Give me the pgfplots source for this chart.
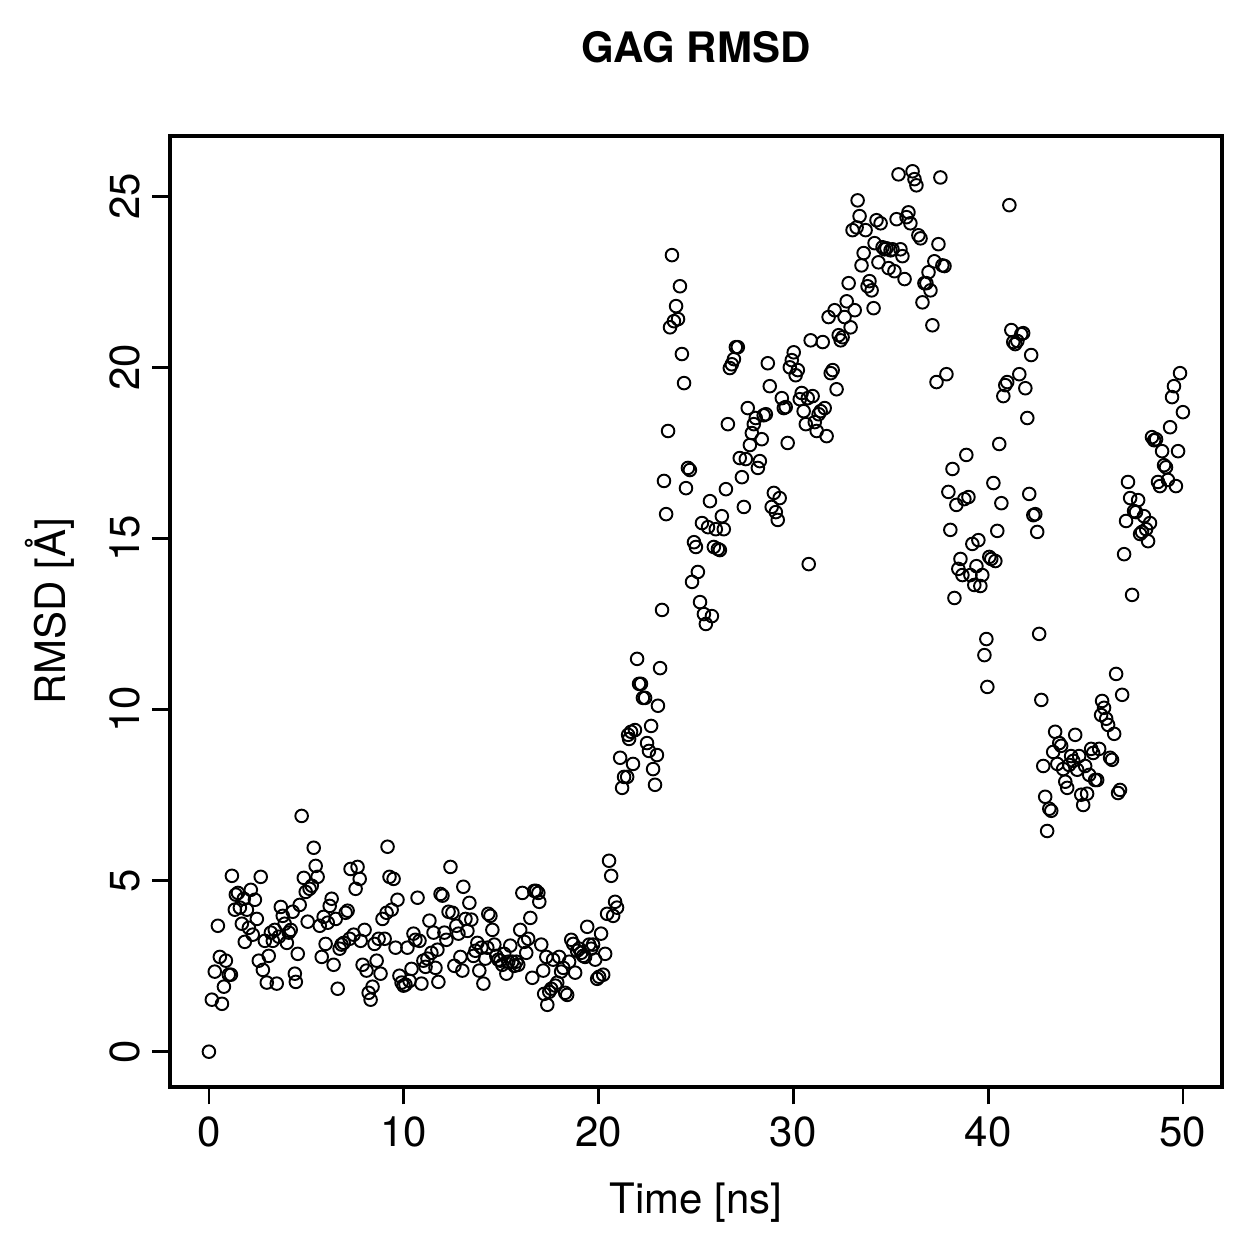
\documentclass[border=0pt]{standalone}
\usepackage{pgfplots}
\pgfplotsset{compat=1.18}
\usepackage{pgfplotstable}
\usepackage{fontspec}
\setmainfont{TeX Gyre Heros}
\pgfplotstableread{
x y
0 0
0.15 1.52
0.30 2.34
0.46 3.68
0.56 2.77
0.67 1.40
0.77 1.90
0.87 2.66
1.02 2.25
1.13 2.25
1.18 5.14
1.33 4.15
1.38 4.59
1.49 4.64
1.59 4.21
1.69 3.74
1.79 4.47
1.84 3.21
1.95 4.15
2.05 3.62
2.15 4.73
2.25 3.42
2.36 4.44
2.46 3.88
2.56 2.66
2.66 5.11
2.77 2.39
2.87 3.24
2.97 2.02
3.07 2.80
3.18 3.48
3.28 3.24
3.38 3.56
3.48 1.99
3.59 3.36
3.69 4.23
3.79 3.97
3.89 3.74
4.00 3.18
4.10 3.48
4.20 3.56
4.30 4.09
4.41 2.28
4.46 2.04
4.56 2.86
4.66 4.29
4.76 6.89
4.87 5.08
4.97 4.67
5.07 3.80
5.17 4.76
5.28 4.85
5.38 5.96
5.48 5.43
5.58 5.11
5.69 3.68
5.79 2.77
5.89 3.94
5.99 3.15
6.10 3.77
6.20 4.26
6.30 4.47
6.40 2.54
6.51 3.88
6.61 1.84
6.71 3.01
6.81 3.13
6.92 3.18
7.02 4.06
7.12 4.12
7.22 3.30
7.27 5.34
7.43 3.42
7.53 4.76
7.63 5.40
7.74 5.05
7.79 3.24
7.89 2.54
7.99 3.56
8.09 2.37
8.20 1.72
8.30 1.52
8.40 1.90
8.50 3.15
8.61 2.66
8.71 3.30
8.81 2.28
8.91 3.88
9.02 3.30
9.12 4.06
9.17 5.99
9.27 5.11
9.38 4.15
9.48 5.05
9.58 3.04
9.68 4.44
9.78 2.22
9.89 2.02
9.99 1.93
10.09 1.96
10.19 3.04
10.30 2.07
10.40 2.42
10.50 3.45
10.60 3.27
10.71 4.50
10.81 3.24
10.91 1.99
11.01 2.66
11.12 2.48
11.22 2.72
11.32 3.83
11.42 2.89
11.53 3.48
11.63 2.45
11.73 2.98
11.78 2.04
11.89 4.61
11.99 4.56
12.09 3.48
12.19 3.27
12.30 4.09
12.40 5.40
12.50 4.06
12.60 2.51
12.70 3.68
12.81 3.45
12.91 2.77
13.01 2.37
13.06 4.82
13.17 3.88
13.27 3.53
13.37 4.35
13.47 3.86
13.58 2.80
13.68 2.95
13.78 3.18
13.88 2.37
13.99 3.04
14.09 1.99
14.19 2.72
14.29 3.04
14.34 4.03
14.45 3.97
14.55 3.56
14.65 3.13
14.75 2.80
14.86 2.69
14.96 2.66
15.06 2.54
15.16 2.86
15.27 2.28
15.37 2.63
15.47 3.10
15.57 2.63
15.68 2.51
15.78 2.63
15.88 2.54
15.98 3.56
16.09 4.64
16.19 3.21
16.29 2.89
16.39 3.30
16.50 3.91
16.60 2.16
16.70 4.70
16.80 4.70
16.91 4.64
16.96 4.38
17.06 3.13
17.16 2.37
17.21 1.69
17.32 2.77
17.37 1.37
17.47 1.75
17.57 1.84
17.67 2.69
17.78 1.93
17.88 2.02
17.98 2.77
18.08 2.34
18.19 2.45
18.29 1.72
18.39 1.66
18.49 2.63
18.60 3.27
18.70 3.15
18.80 2.31
18.90 2.95
19.01 3.01
19.11 2.89
19.21 2.80
19.31 2.77
19.42 3.65
19.52 3.13
19.62 3.01
19.72 3.13
19.83 2.69
19.93 2.13
20.03 2.19
20.13 3.45
20.24 2.25
20.34 2.86
20.44 4.03
20.54 5.58
20.65 5.14
20.75 3.97
20.85 4.38
20.95 4.21
21.11 8.59
21.21 7.71
21.31 8.03
21.47 8.03
21.52 9.26
21.57 9.14
21.67 9.35
21.77 8.41
21.87 9.40
21.98 11.48
22.08 10.75
22.18 10.75
22.28 10.34
22.39 10.34
22.49 9.02
22.59 8.79
22.70 9.52
22.80 8.26
22.90 7.80
23.00 8.67
23.05 10.11
23.16 11.21
23.26 12.91
23.36 16.68
23.47 15.71
23.57 18.14
23.67 21.17
23.77 23.28
23.87 21.35
23.98 21.79
24.08 21.41
24.18 22.37
24.28 20.39
24.39 19.54
24.49 16.47
24.59 17.06
24.69 17.00
24.80 13.73
24.90 14.89
25.00 14.75
25.10 14.02
25.21 13.14
25.31 15.45
25.41 12.79
25.51 12.50
25.62 15.33
25.72 16.09
25.82 12.73
25.92 14.75
26.02 15.27
26.13 14.69
26.23 14.66
26.33 15.65
26.43 15.27
26.54 16.44
26.64 18.34
26.74 19.98
26.84 20.09
26.95 20.24
27.05 20.59
27.15 20.59
27.25 17.35
27.36 16.79
27.46 15.92
27.56 17.32
27.66 18.81
27.77 17.73
27.87 18.08
27.97 18.34
28.07 18.52
28.18 17.06
28.28 17.26
28.38 17.90
28.48 18.60
28.59 18.63
28.69 20.12
28.79 19.45
28.89 15.92
29.00 16.33
29.10 15.77
29.20 15.54
29.30 16.18
29.41 19.10
29.51 18.81
29.61 18.84
29.71 17.79
29.82 20.00
29.92 20.21
30.02 20.44
30.12 19.77
30.23 19.92
30.33 19.07
30.43 19.25
30.53 18.72
30.64 18.34
30.74 19.10
30.79 14.25
30.89 20.79
30.99 19.16
31.10 18.40
31.20 18.14
31.30 18.63
31.40 18.72
31.51 20.74
31.61 18.81
31.71 17.99
31.81 21.47
31.92 19.83
32.02 19.92
32.12 21.67
32.22 19.36
32.33 20.94
32.43 20.79
32.53 20.88
32.63 21.47
32.74 21.93
32.84 22.46
32.94 21.17
33.04 24.01
33.15 21.67
33.25 24.09
33.30 24.88
33.40 24.42
33.50 22.98
33.61 23.34
33.71 24.01
33.81 22.37
33.91 22.52
34.02 22.25
34.12 21.73
34.17 23.63
34.27 24.30
34.37 23.07
34.48 24.21
34.58 23.51
34.68 23.45
34.78 23.48
34.89 22.90
34.99 23.42
35.09 23.45
35.19 22.81
35.30 24.33
35.40 25.64
35.50 23.45
35.60 23.25
35.71 22.58
35.81 24.39
35.91 24.53
36.01 24.21
36.12 25.73
36.22 25.50
36.32 25.32
36.42 23.86
36.53 23.77
36.63 21.90
36.73 22.46
36.83 22.46
36.94 22.78
37.04 22.25
37.14 21.23
37.24 23.10
37.35 19.57
37.45 23.60
37.55 25.55
37.65 22.98
37.76 22.96
37.86 19.80
37.96 16.36
38.06 15.25
38.17 17.03
38.27 13.26
38.37 15.98
38.47 14.11
38.58 14.40
38.68 13.93
38.78 16.15
38.88 17.44
38.99 16.21
39.09 13.93
39.19 14.84
39.29 13.64
39.40 14.19
39.50 14.95
39.60 13.61
39.70 13.93
39.81 11.59
39.91 12.06
39.96 10.66
40.06 14.46
40.16 14.40
40.27 16.62
40.37 14.34
40.47 15.22
40.57 17.76
40.68 16.03
40.78 19.16
40.88 19.48
40.98 19.57
41.09 24.74
41.19 21.09
41.29 20.74
41.39 20.68
41.50 20.77
41.60 19.80
41.70 20.97
41.80 21.00
41.91 19.39
42.01 18.52
42.11 16.30
42.21 20.36
42.32 15.68
42.42 15.71
42.52 15.19
42.62 12.21
42.73 10.28
42.83 8.35
42.93 7.45
43.03 6.45
43.14 7.10
43.24 7.04
43.34 8.76
43.44 9.35
43.55 8.41
43.65 9.02
43.75 8.94
43.85 8.26
43.96 7.89
44.06 7.71
44.16 8.38
44.26 8.64
44.37 8.50
44.47 9.26
44.57 8.24
44.67 8.64
44.78 7.51
44.88 7.21
44.98 8.35
45.08 7.54
45.19 8.09
45.29 8.85
45.39 8.73
45.49 7.94
45.60 7.94
45.70 8.85
45.80 9.84
45.85 10.25
45.95 10.05
46.06 9.73
46.16 9.55
46.26 8.59
46.36 8.53
46.47 9.29
46.57 11.04
46.67 7.56
46.77 7.65
46.88 10.43
46.98 14.54
47.08 15.51
47.18 16.65
47.29 16.18
47.39 13.35
47.49 15.80
47.59 15.77
47.70 16.12
47.80 15.13
47.90 15.19
48.00 15.65
48.11 15.27
48.21 14.92
48.31 15.45
48.41 17.96
48.52 17.87
48.62 17.90
48.72 16.65
48.82 16.53
48.93 17.55
49.03 17.14
49.13 17.08
49.23 16.71
49.34 18.25
49.44 19.13
49.54 19.45
49.64 16.53
49.75 17.55
49.85 19.83
50.00 18.69
}\rmsd
\begin{document}
\begin{tikzpicture}
\begin{axis}[
  at={(0,0)}, anchor=south west,
  scale only axis,
  width=300.8pt, height=271.9pt,
  xmin=-2, xmax=52, ymin=-1.03, ymax=26.76,
  xtick={0,10,20,30,40,50},
  ytick={0,5,10,15,20,25},
  xtick pos=left, ytick pos=left,
  tick align=outside,
  major tick length=5pt,
  tick style={black, line width=0.8pt},
  axis line style={line width=0.95pt},
  /pgf/number format/assume math mode=true,
  tick label style={font=\fontsize{12}{14}\selectfont},
  yticklabel style={rotate=90, anchor=south},
  title={\textbf{GAG RMSD}},
  title style={at={(axis description cs:0.5,1.0715)}, anchor=center, font=\fontsize{12}{14}\selectfont},
  xlabel={Time [ns]},
  ylabel={RMSD [Å]},
  label style={font=\fontsize{12}{14}\selectfont},
  xlabel style={at={(axis description cs:0.5,-0.122)}, anchor=center},
  ylabel style={at={(axis description cs:-0.114,0.5)}, anchor=center},
]
\addplot[only marks, mark=o, mark size=1.8pt, mark options={line width=0.55pt, black}] table[x=x,y=y] {\rmsd};
\end{axis}
\pgfresetboundingbox
\path[use as bounding box] (-48.6pt,-49.2pt) rectangle (311.4pt,310.8pt);
\end{tikzpicture}
\end{document}
